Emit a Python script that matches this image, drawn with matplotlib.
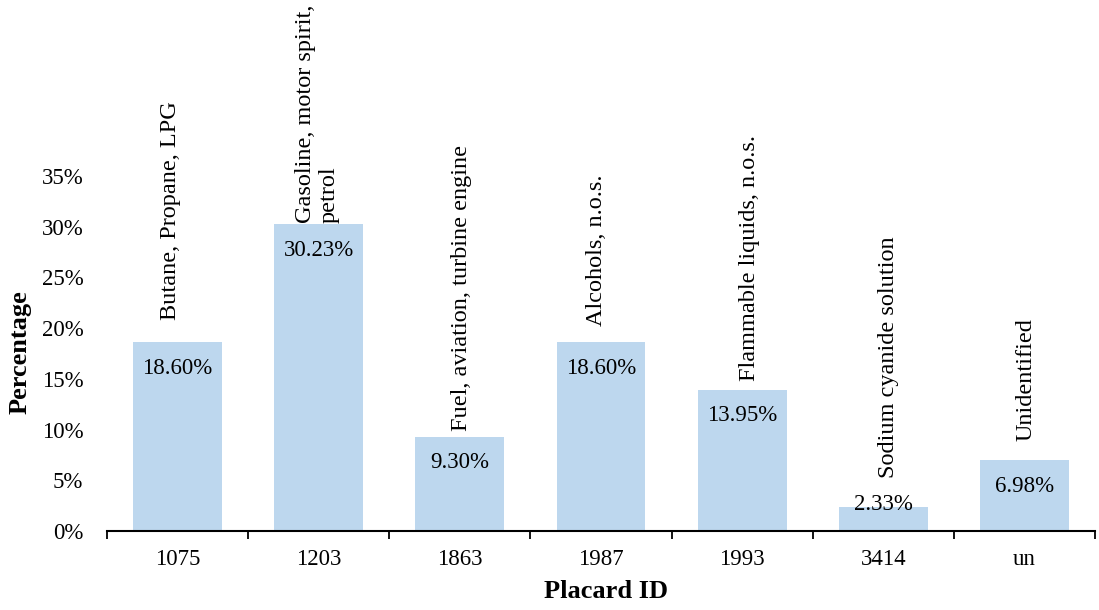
import matplotlib
matplotlib.use("Agg")
import matplotlib.pyplot as plt
from matplotlib.ticker import PercentFormatter, FixedLocator

plt.rcParams["font.family"] = ["Liberation Serif", "DejaVu Serif"]

PLACARD_IDS = ["1075", "1203", "1863", "1987", "1993", "3414", "un"]
MATERIALS = [
    "Butane, Propane, LPG",
    "Gasoline, motor spirit,\npetrol",
    "Fuel, aviation, turbine engine",
    "Alcohols, n.o.s.",
    "Flammable liquids, n.o.s.",
    "Sodium cyanide solution",
    "Unidentified",
]
SHARES = [18.60, 30.23, 9.30, 18.60, 13.95, 2.33, 6.98]

BAR_COLOR = "#BDD7EE"
# manual nudges of the material names (points), as placed in the original
NAME_OFFSETS = [(-5, 16), (-1, 1), (1, 4), (-3, 12), (5, 6), (4, 21), (1, 14)]

fig = plt.figure(figsize=(10.99, 6.10), dpi=100)
ax = fig.add_axes([107 / 1099, 79 / 610, 988 / 1099, 355 / 610])

x = range(len(PLACARD_IDS))
values = [v / 100 for v in SHARES]
ax.bar(x, values, width=0.63, color=BAR_COLOR, zorder=2)

ax.set_xlim(-0.5, len(PLACARD_IDS) - 0.5)
ax.set_ylim(0, 0.35)
ax.yaxis.set_major_locator(FixedLocator([i * 0.05 for i in range(8)]))
ax.yaxis.set_major_formatter(PercentFormatter(1.0, decimals=0))

ax.set_xticks(list(x))
ax.set_xticklabels(PLACARD_IDS)
ax.set_xticks([i - 0.5 for i in range(len(PLACARD_IDS) + 1)], minor=True)
ax.tick_params(axis="x", which="major", length=0, pad=13, labelsize=16.5)
ax.tick_params(axis="x", which="minor", length=6, width=1.3, direction="out")
ax.tick_params(axis="y", length=0, pad=17, labelsize=16.5)

for side in ["top", "right", "left"]:
    ax.spines[side].set_visible(False)
ax.spines["bottom"].set_linewidth(1.5)
ax.spines["bottom"].set_zorder(3)

for i, (v, name) in enumerate(zip(values, MATERIALS)):
    y_lbl = max(v - 0.0256, 0.026)
    ax.text(i, y_lbl, f"{v * 100:.2f}%", ha="center", va="center", fontsize=16.5, zorder=4)
    dx, dy = NAME_OFFSETS[i]
    ax.annotate(name, xy=(i, v), xytext=(dx, dy), textcoords="offset points",
                rotation=90, ha="center", va="bottom", multialignment="left",
                fontsize=17.5, linespacing=1.15, annotation_clip=False)

ax.set_xlabel("Placard ID", fontsize=19, fontweight="bold", labelpad=7)
ax.xaxis.label.set_x(0.505)
fig.text(20 / 1099, 1 - 352 / 610, "Percentage", rotation=90, ha="center", va="center",
         fontsize=19, fontweight="bold")

fig.savefig("out.png", dpi=100, facecolor="white")
